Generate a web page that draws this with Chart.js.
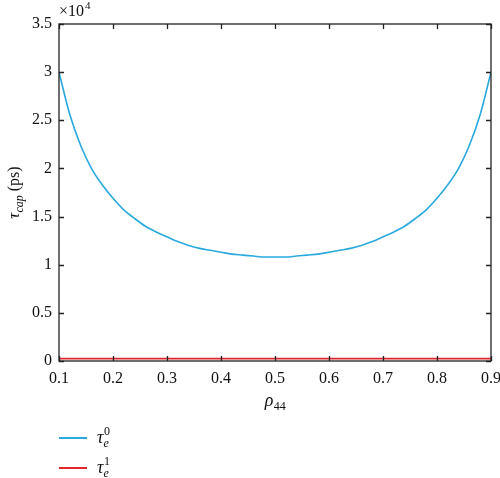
<!DOCTYPE html>
<html>
<head>
<meta charset="utf-8">
<script src="https://cdn.jsdelivr.net/npm/chart.js@4/dist/chart.umd.min.js"></script>
<style>
  html, body { margin: 0; padding: 0; background: #fff; }
  #wrap { width: 500px; height: 478px; position: relative; }
</style>
</head>
<body>
<div id="wrap"><canvas id="c" width="500" height="478"></canvas></div>
<script>
// ---- data (values in units of 1e4 ps) ----
const rho44 = [0.10,0.12,0.14,0.16,0.18,0.20,0.22,0.24,0.26,0.28,0.30,0.32,0.34,0.36,0.38,0.40,0.42,0.44,0.46,0.48,0.50,
               0.52,0.54,0.56,0.58,0.60,0.62,0.64,0.66,0.68,0.70,0.72,0.74,0.76,0.78,0.80,0.82,0.84,0.86,0.88,0.90];
const tauE0 = [3.00,2.56,2.24,2.00,1.83,1.69,1.57,1.48,1.40,1.34,1.29,1.24,1.20,1.17,1.15,1.13,1.11,1.10,1.09,1.08,1.08,
               1.08,1.09,1.10,1.11,1.13,1.15,1.17,1.20,1.24,1.29,1.34,1.40,1.48,1.57,1.69,1.83,2.00,2.24,2.56,3.00];
const rhoE1 = [0.10, 0.90];
const tauE1 = [0.025, 0.025];
const xTicks = [0.1,0.2,0.3,0.4,0.5,0.6,0.7,0.8,0.9];
const yTicks = [0,0.5,1,1.5,2,2.5,3,3.5];
const seriesNames = ['τe0','τe1'];
const colors = ['#2aa9df', '#e0262b'];

const FONT = "'Liberation Serif', 'Times New Roman', 'DejaVu Serif', serif";

const framePlugin = {
  id: 'frame',
  afterDraw(chart) {
    const ctx = chart.ctx;
    const a = chart.chartArea;
    const xs = chart.scales.x, ys = chart.scales.y;
    ctx.save();
    ctx.strokeStyle = '#222';
    ctx.lineWidth = 1.3;
    ctx.strokeRect(a.left, a.top, a.right - a.left, a.bottom - a.top);
    const L = 5;
    ctx.beginPath();
    xTicks.forEach(v => {
      const px = Math.round(xs.getPixelForValue(v)) + 0.5;
      ctx.moveTo(px, a.bottom); ctx.lineTo(px, a.bottom - L);
      ctx.moveTo(px, a.top); ctx.lineTo(px, a.top + L);
    });
    yTicks.forEach(v => {
      const py = Math.round(ys.getPixelForValue(v)) + 0.5;
      ctx.moveTo(a.left, py); ctx.lineTo(a.left + L, py);
      ctx.moveTo(a.right, py); ctx.lineTo(a.right - L, py);
    });
    ctx.stroke();

    ctx.fillStyle = '#111';
    // x10^4 multiplier
    ctx.textBaseline = 'alphabetic';
    ctx.textAlign = 'left';
    ctx.font = '16px ' + FONT;
    ctx.fillText('×10', a.left, 16);
    const w = ctx.measureText('×10').width;
    ctx.font = '11px ' + FONT;
    ctx.fillText('4', a.left + w + 1, 9);

    // x axis title rho_44
    const cx = (a.left + a.right) / 2;
    ctx.font = 'italic 18px ' + FONT;
    const wr = ctx.measureText('ρ').width;
    ctx.font = '12px ' + FONT;
    const w44 = ctx.measureText('44').width;
    const sx = cx - (wr + w44) / 2;
    ctx.font = 'italic 18px ' + FONT;
    ctx.fillText('ρ', sx, 406);
    ctx.font = '12px ' + FONT;
    ctx.fillText('44', sx + wr + 0.5, 410);

    // y axis title tau_cap (ps)
    ctx.save();
    ctx.translate(19, (a.top + a.bottom) / 2);
    ctx.rotate(-Math.PI / 2);
    ctx.font = 'italic 17px ' + FONT;
    const wt = ctx.measureText('τ').width;
    ctx.font = 'italic 12px ' + FONT;
    const wc = ctx.measureText('cap').width;
    ctx.font = '16px ' + FONT;
    const wp = ctx.measureText(' (ps)').width;
    let tx = -(wt + wc + wp) / 2;
    ctx.font = 'italic 17px ' + FONT;
    ctx.fillText('τ', tx, 0);
    ctx.font = 'italic 12px ' + FONT;
    ctx.fillText('cap', tx + wt, 4);
    ctx.font = '16px ' + FONT;
    ctx.fillText(' (ps)', tx + wt + wc, 0);
    ctx.restore();

    // legend
    const ly = [438, 468];
    ['0', '1'].forEach((sup, i) => {
      ctx.strokeStyle = colors[i];
      ctx.lineWidth = 2;
      ctx.beginPath();
      ctx.moveTo(59, ly[i]); ctx.lineTo(87, ly[i]);
      ctx.stroke();
      ctx.fillStyle = '#111';
      ctx.font = 'italic 18px ' + FONT;
      ctx.fillText('τ', 97, ly[i] + 5);
      const wtt = ctx.measureText('τ').width;
      ctx.font = '12px ' + FONT;
      ctx.fillText(sup, 97 + wtt + 0.5, ly[i] - 3);
      ctx.font = 'italic 12px ' + FONT;
      ctx.fillText('e', 97 + wtt, ly[i] + 9);
    });
    ctx.restore();
  }
};

new Chart(document.getElementById('c'), {
  type: 'line',
  data: {
    datasets: [
      { label: seriesNames[0], data: rho44.map((x, i) => ({ x, y: tauE0[i] })),
        borderColor: colors[0], borderWidth: 1.6, pointRadius: 0, tension: 0.3, cubicInterpolationMode: 'monotone', fill: false },
      { label: seriesNames[1], data: rhoE1.map((x, i) => ({ x, y: tauE1[i] })),
        borderColor: colors[1], borderWidth: 1.6, pointRadius: 0, tension: 0, fill: false }
    ]
  },
  options: {
    responsive: false,
    animation: false,
    layout: { padding: { top: 24, right: 0, left: 0, bottom: 0 } },
    plugins: { legend: { display: false }, tooltip: { enabled: false } },
    scales: {
      x: {
        type: 'linear', min: 0.1, max: 0.9,
        afterBuildTicks(s) { s.ticks = xTicks.map(v => ({ value: v })); },
        afterFit(s) { s.height = 117; s.paddingRight = 9; },
        grid: { display: false, drawTicks: false },
        border: { display: false },
        ticks: { color: '#111', padding: 8, font: { family: FONT, size: 16 },
                 maxRotation: 0, autoSkip: false,
                 callback: v => v.toFixed(1) }
      },
      y: {
        type: 'linear', min: 0, max: 3.5,
        afterBuildTicks(s) { s.ticks = yTicks.map(v => ({ value: v })); },
        afterFit(s) { s.width = 59; },
        grid: { display: false, drawTicks: false },
        border: { display: false },
        ticks: { color: '#111', padding: 7, font: { family: FONT, size: 16 },
                 autoSkip: false, callback: v => String(v) }
      }
    }
  },
  plugins: [framePlugin]
});
</script>
</body>
</html>
